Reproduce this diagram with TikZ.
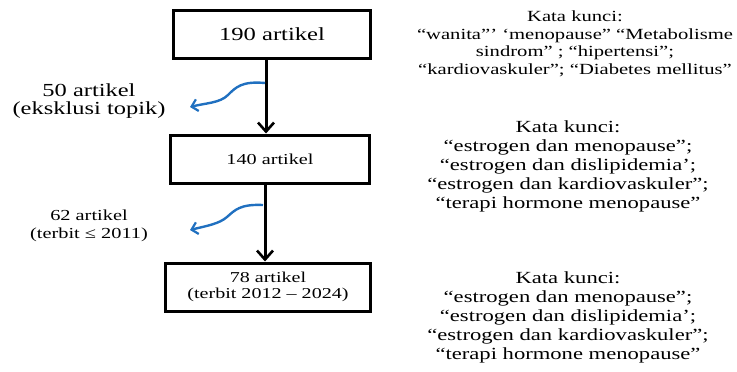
\documentclass[tikz,border=0pt]{standalone}
\usepackage{fontspec}
\setmainfont[FakeStretch=1.33]{Liberation Serif}
\usetikzlibrary{arrows.meta}
\definecolor{arrblue}{RGB}{32,112,192}
\begin{document}
\begin{tikzpicture}[x=1pt,y=-1pt,
  box/.style={draw=black,line width=3pt,minimum height=48pt,inner sep=0pt,align=center},
  lab/.style={align=center,inner sep=0pt},
  down/.style={line width=3pt,-{Straight Barb[length=9pt,width=16pt,line width=2.6pt]}},
  side/.style={arrblue,line width=2.4pt,-{Straight Barb[length=6pt,width=12pt,line width=2.2pt]}}]
\useasboundingbox (0,0) rectangle (737,372);
\node[box,minimum width=197pt,font=\fontsize{18.5}{20}\selectfont] (b1) at (272,34) {190 artikel};
\node[box,minimum width=199pt,font=\fontsize{15.2}{18}\selectfont] (b2) at (270,159) {140 artikel};
\node[box,minimum width=205pt,font=\fontsize{15.1}{15.5}\selectfont] (b3) at (268,287) {78 artikel\\(terbit 2012 -- 2024)};
\draw[down] (b1.south -| 266,0) -- (b2.north -| 266,0);
\draw[down] (b2.south -| 265,0) -- (b3.north -| 265,0);
\node[lab,font=\fontsize{18.4}{18}\selectfont] (l1) at (89,101) {50 artikel\\(eksklusi topik)};
\node[lab,font=\fontsize{15.3}{18}\selectfont] (l2) at (89,226) {62 artikel\\(terbit ≤ 2011)};
\coordinate (s1) at (265,83);
\coordinate (t1) at (190,107);
\coordinate (s2) at (263,205);
\coordinate (t2) at (190,230);
\draw[side] (s1) .. controls (242,81) and (236,87) .. (228,95) .. controls (220,103) and (206,103) .. (t1);
\draw[side] (s2) .. controls (240,204) and (235,210) .. (227,217) .. controls (219,224) and (206,226) .. (t2);
\node[lab,font=\fontsize{15.5}{17.6}\selectfont] (k1) at (575,44) {Kata kunci:\\
“wanita”’ ‘menopause” “Metabolisme\\ sindrom” ; “hipertensi”;\\ “kardiovaskuler”; “Diabetes mellitus”};
\node[lab,font=\fontsize{17}{19}\selectfont] (k2) at (568,166) {Kata kunci:\\
“estrogen dan menopause”;\\ “estrogen dan dislipidemia’;\\ “estrogen dan kardiovaskuler”;\\ “terapi hormone menopause”};
\node[lab,font=\fontsize{17}{19}\selectfont] (k3) at (568,317) {Kata kunci:\\
“estrogen dan menopause”;\\ “estrogen dan dislipidemia’;\\ “estrogen dan kardiovaskuler”;\\ “terapi hormone menopause”};
\end{tikzpicture}
\end{document}
